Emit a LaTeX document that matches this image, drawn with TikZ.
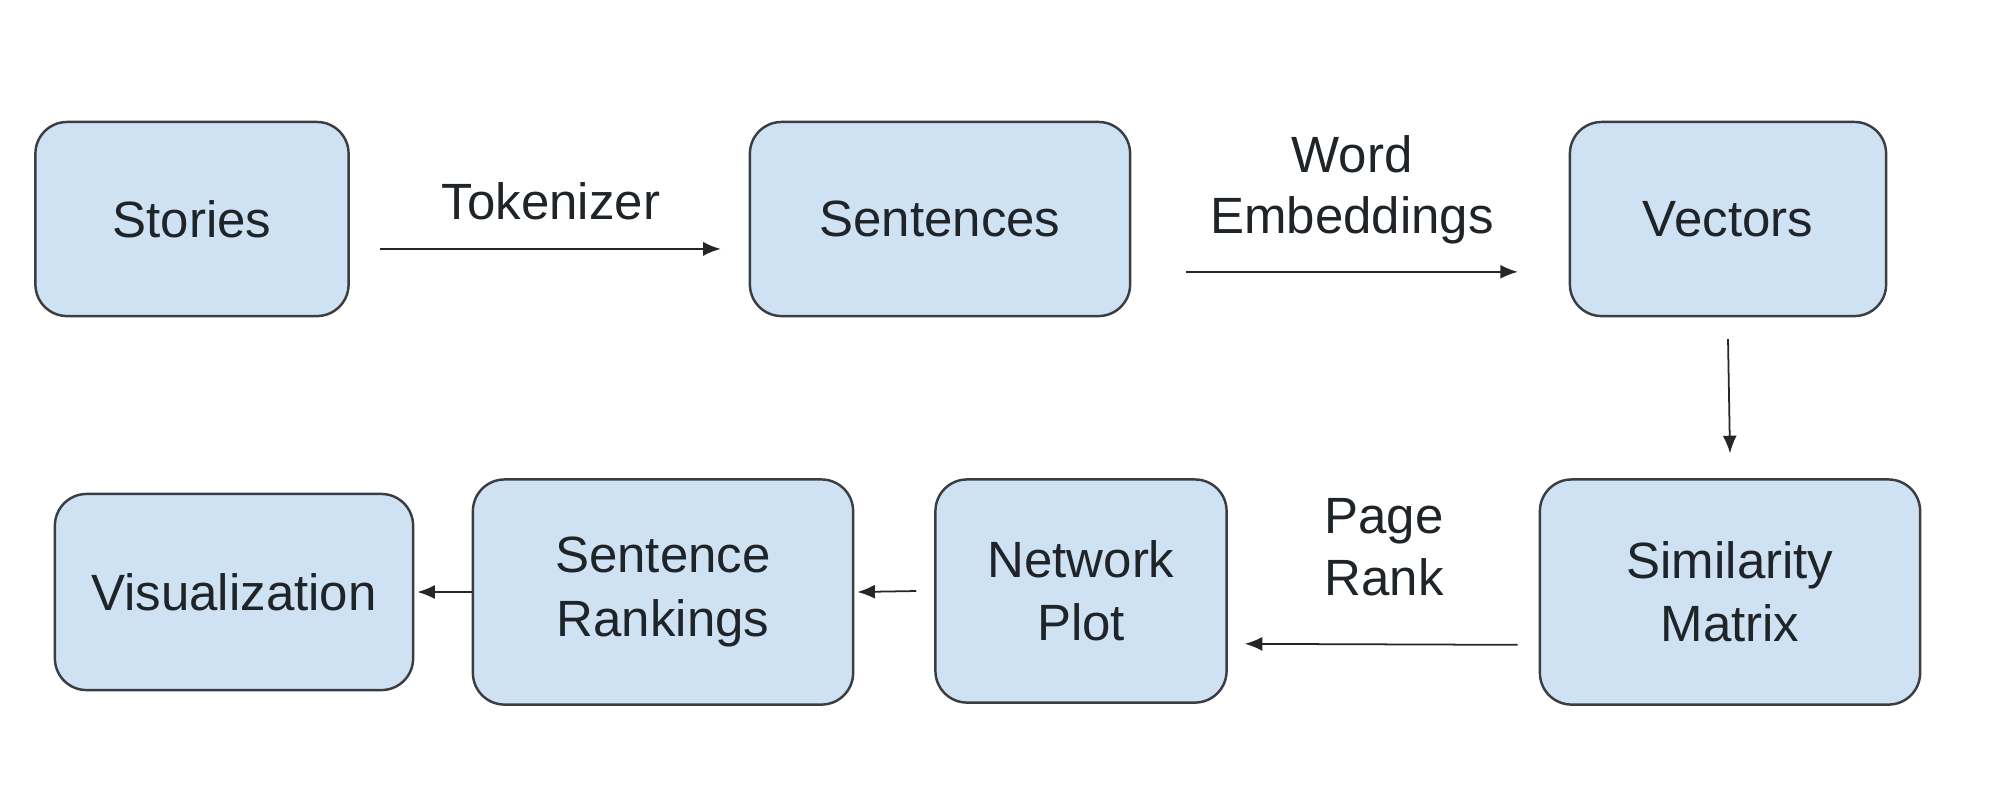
\documentclass[tikz,border=0pt]{standalone}
\usepackage{fontspec}
\setmainfont{Liberation Sans}
\usetikzlibrary{arrows.meta}
\definecolor{boxfill}{HTML}{CFE2F3}
\definecolor{boxline}{HTML}{3A3D42}
\definecolor{txt}{HTML}{1F2428}
\tikzset{
  stage/.style={draw=boxline, fill=boxfill, line width=0.7pt, rounded corners=9pt,
    align=center, inner sep=0pt, text=txt, font=\fontsize{14.5}{18}\selectfont},
  lbl/.style={align=center, inner sep=0pt, text=txt, font=\fontsize{14.5}{17.5}\selectfont},
  arr/.style={draw=black!85, line width=0.5pt, -{Latex[length=5pt,width=4pt]}}
}
\begin{document}
\begin{tikzpicture}[x=0.01cm,y=-0.01cm]
\useasboundingbox (0,0) rectangle (2000,793);
\node[stage, minimum width=3.13cm, minimum height=1.94cm] (stories) at (192,219) {Stories};
\node[stage, minimum width=3.80cm, minimum height=1.94cm] (sentences) at (940,219) {Sentences};
\node[stage, minimum width=3.16cm, minimum height=1.94cm] (vectors) at (1728,219) {Vectors};
\node[stage, minimum width=3.80cm, minimum height=2.25cm] (simmat) at (1730,592) {Similarity\\Matrix};
\node[stage, minimum width=2.91cm, minimum height=2.23cm] (netplot) at (1081,591) {Network\\Plot};
\node[stage, minimum width=3.80cm, minimum height=2.25cm] (ranks) at (663,592) {Sentence\\Rankings};
\node[stage, minimum width=3.58cm, minimum height=1.96cm] (vis) at (234,592) {Visualization};

\node[lbl] (tok) at (551,201) {Tokenizer};
\node[lbl] (wemb) at (1352,190) {Word\\Embeddings};
\node[lbl] (prank) at (1384,547) {Page\\Rank};

\draw[arr] ([xshift=30pt*0.2835/0.2835*0.2835, yshift=-30*0.2835pt]stories.east) -- ([xshift=-28*0.2835pt, yshift=-30*0.2835pt]sentences.west);
\draw[arr] ([xshift=55*0.2835pt, yshift=-53*0.2835pt]sentences.east) -- ([xshift=-51*0.2835pt, yshift=-53*0.2835pt]vectors.west);
\draw[arr] ([yshift=-22*0.2835pt]vectors.south) -- ([yshift=25*0.2835pt]simmat.north);
\draw[arr] ([xshift=-21*0.2835pt, yshift=-53*0.2835pt]simmat.west) -- ([xshift=17*0.2835pt, yshift=-53*0.2835pt]netplot.east);
\draw[arr] ([xshift=-18*0.2835pt]netplot.west) -- ([xshift=3*0.2835pt]ranks.east);
\draw[arr] (ranks.west) -- ([xshift=3*0.2835pt]vis.east);
\end{tikzpicture}
\end{document}
